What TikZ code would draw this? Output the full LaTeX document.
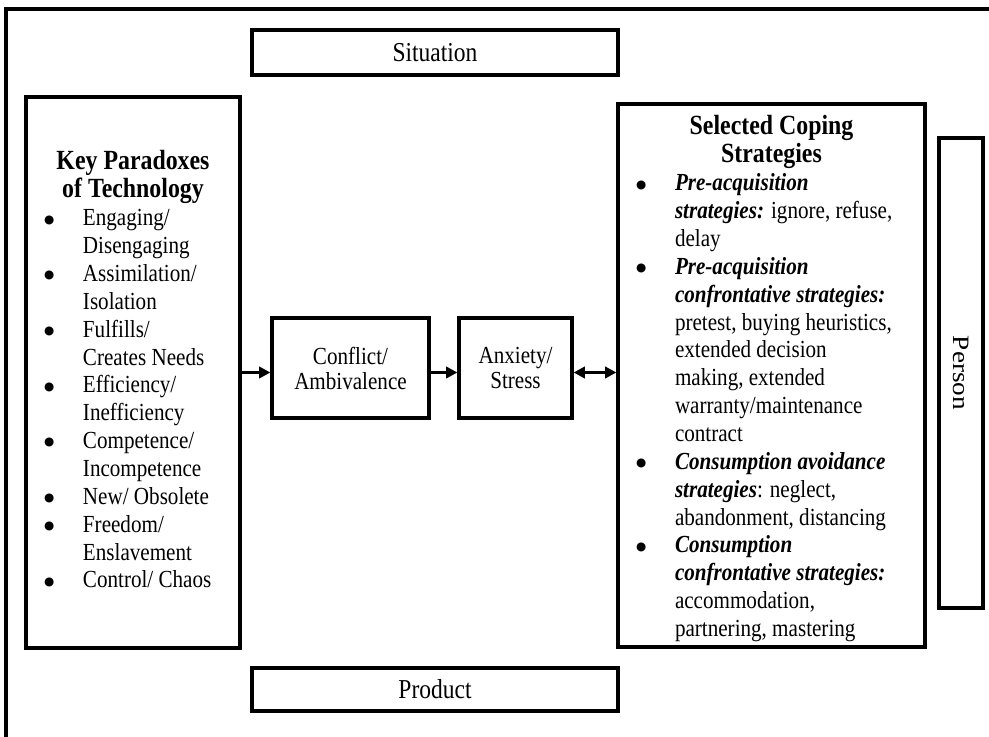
\documentclass[tikz,border=0pt]{standalone}
\usepackage{fontspec}
\setmainfont{Liberation Serif}[FakeStretch=0.86]
\newfontfamily\personfont{Liberation Serif}[FakeStretch=1.16]
\newfontfamily\symf{DejaVu Sans}
\usetikzlibrary{arrows.meta}
\newdimen\px \px=0.75pt
\newcommand\bodyf{\fontsize{18.4pt}{20.9pt}\selectfont}
\newcommand\titlef{\fontsize{20.8pt}{20.9pt}\selectfont\bfseries}
\newcommand\bigf{\fontsize{20.5pt}{24pt}\selectfont}
\newcommand\midf{\fontsize{18.4pt}{18.75pt}\selectfont}
\newcommand\dotb{\raisebox{2pt}{\symf\fontsize{8.8pt}{10pt}\selectfont ●}}
\newcommand\bl[1]{\par\noindent\hspace*{18\px}\makebox[39\px][l]{\dotb}\mbox{#1}}
\newcommand\cl[1]{\par\noindent\hspace*{57\px}\mbox{#1}}
\newcommand\bi[1]{\textbf{\textit{#1}}}
\begin{document}
\begin{tikzpicture}[x=0.75pt,y=-0.75pt,
  box/.style={draw=black, line width=2.4pt, rectangle, inner sep=0pt},
  txt/.style={inner sep=0pt, outer sep=0pt},
  arr/.style={line width=2.2pt, -{Triangle[length=8.5pt,width=8.5pt]}},
  darr/.style={line width=2.2pt, {Triangle[length=8.5pt,width=8.5pt]}-{Triangle[length=8.5pt,width=8.5pt]}}]
\useasboundingbox (0,0) rectangle (989,737);
\draw[line width=2.6pt] (6,9) rectangle (1000,760);

\node[box, minimum width=274.5pt, minimum height=33.75pt, font=\bigf] (sit) at (435,52.5) {Situation};
\node[box, minimum width=274.5pt, minimum height=32.25pt, font=\bigf] (prod) at (435,689.5) {Product};
\node[box, minimum width=160.5pt, minimum height=413.25pt] (key) at (133,372.5) {};
\node[box, minimum width=117.75pt, minimum height=75pt, align=center, font=\midf] (conf) at (350.5,368) {Conflict/\\Ambivalence};
\node[box, minimum width=84.75pt, minimum height=75pt, align=center, font=\midf] (anx) at (515.5,368) {Anxiety/\\Stress};
\node[box, minimum width=230.25pt, minimum height=407.25pt] (cope) at (771.5,375.5) {};
\node[box, rotate=-90, minimum width=352.5pt, minimum height=33pt, font={\personfont\fontsize{17.6pt}{20pt}\selectfont}] (person) at (961,373) {Person};

\node[txt, anchor=base west] (keytxt) at (26,170) {\parbox[t]{160.5pt}{\parindent=0pt
  {\centering\titlef Key Paradoxes\\of Technology\par}
  \bodyf
  \bl{Engaging/}
  \cl{Disengaging}
  \bl{Assimilation/}
  \cl{Isolation}
  \bl{Fulfills/}
  \cl{Creates Needs}
  \bl{Efficiency/}
  \cl{Inefficiency}
  \bl{Competence/}
  \cl{Incompetence}
  \bl{New/ Obsolete}
  \bl{Freedom/}
  \cl{Enslavement}
  \bl{Control/ Chaos}\par}};

\node[txt, anchor=base west] (copetxt) at (618,135) {\parbox[t]{230.25pt}{\parindent=0pt
  {\centering\titlef Selected Coping\\Strategies\par}
  \bodyf
  \bl{\bi{Pre-acquisition}}
  \cl{\bi{strategies:} ignore, refuse,}
  \cl{delay}
  \bl{\bi{Pre-acquisition}}
  \cl{\bi{confrontative strategies:}}
  \cl{pretest, buying heuristics,}
  \cl{extended decision}
  \cl{making, extended}
  \cl{warranty/maintenance}
  \cl{contract}
  \bl{\bi{Consumption avoidance}}
  \cl{\bi{strategies}: neglect,}
  \cl{abandonment, distancing}
  \bl{\bi{Consumption}}
  \cl{\bi{confrontative strategies:}}
  \cl{accommodation,}
  \cl{partnering, mastering}\par}};

\draw[arr] (key.east) -- (conf.west |- key.east);
\draw[arr] (conf.east |- key.east) -- (anx.west |- key.east);
\draw[darr] (anx.east |- key.east) -- (cope.west |- key.east);
\end{tikzpicture}
\end{document}
